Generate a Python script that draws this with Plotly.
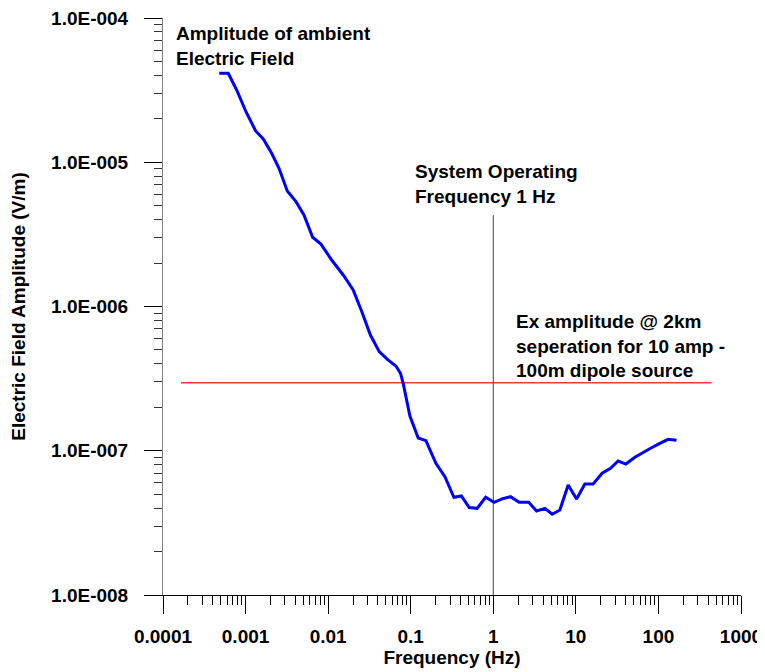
import plotly.graph_objects as go

# ambient electric field amplitude
freq = [4.80e-4, 6.17e-4, 7.80e-4, 1.011e-3, 1.325e-3, 1.638e-3, 2.07e-3, 2.54e-3,
        3.20e-3, 4.08e-3, 5.09e-3, 6.49e-3, 8.18e-3, 1.103e-2, 1.523e-2, 2.01e-2,
        2.566e-2, 3.25e-2, 4.155e-2, 5.30e-2, 6.62e-2, 7.54e-2, 8.11e-2, 9.78e-2,
        0.1233, 0.1528, 0.2019, 0.2594, 0.3334, 0.411, 0.5107, 0.638,
        0.807, 1.023, 1.296, 1.62, 2.052, 2.683, 3.344, 4.215,
        5.166, 6.40, 8.07, 10.2, 12.85, 16.2, 20.8, 26.3,
        32.5, 40.3, 51.8, 65.3, 82.5, 104, 131, 165.6]
amplitude = [4.14e-5, 4.14e-5, 3.17e-5, 2.24e-5, 1.647e-5, 1.45e-5, 1.153e-5, 9.08e-6,
             6.32e-6, 5.33e-6, 4.31e-6, 3.02e-6, 2.71e-6, 2.10e-6, 1.654e-6, 1.302e-6,
             9.16e-7, 6.34e-7, 4.86e-7, 4.26e-7, 3.87e-7, 3.43e-7, 2.93e-7, 1.741e-7,
             1.226e-7, 1.174e-7, 8.18e-8, 6.61e-8, 4.76e-8, 4.86e-8, 4.04e-8, 3.99e-8,
             4.76e-8, 4.39e-8, 4.65e-8, 4.80e-8, 4.39e-8, 4.39e-8, 3.82e-8, 3.99e-8,
             3.63e-8, 3.88e-8, 5.79e-8, 4.63e-8, 5.88e-8, 5.88e-8, 6.98e-8, 7.55e-8,
             8.49e-8, 8.09e-8, 9.01e-8, 9.75e-8, 1.05e-7, 1.126e-7, 1.20e-7, 1.181e-7]

# Ex amplitude of the source (red line)
source_freq = [1.65e-4, 440]
source_amp = [2.96e-7, 2.96e-7]

# operating frequency marker
op_freq = [1, 1]
op_amp = [1e-8, 4.3e-6]

x_ticks = [1e-4, 1e-3, 1e-2, 1e-1, 1, 10, 100, 1000]
x_labels = ['0.0001', '0.001', '0.01', '0.1', '1', '10', '100', '1000']
y_ticks = [1e-8, 1e-7, 1e-6, 1e-5, 1e-4]
y_labels = ['1.0E-008', '1.0E-007', '1.0E-006', '1.0E-005', '1.0E-004']

FAM = 'Liberation Sans, Arial, sans-serif'
font = dict(family=FAM, size=19, color='black', weight='bold')
tick_font = dict(family=FAM, size=19, color='black', weight='bold')

fig = go.Figure()
fig.add_trace(go.Scatter(x=source_freq, y=source_amp, mode='lines',
                         line=dict(color='rgb(232,60,60)', width=1.5)))
fig.add_trace(go.Scatter(x=op_freq, y=op_amp, mode='lines',
                         line=dict(color='#444444', width=1)))
fig.add_trace(go.Scatter(x=freq, y=amplitude, mode='lines',
                         line=dict(color='rgb(0,0,255)', width=3)))

# ranges padded a hair so the end decades keep their ticks (log rounding)
fig.update_xaxes(type='log', range=[-4.00001, 3.00001], automargin=False,
                 tickvals=x_ticks, ticktext=x_labels,
                 ticks='outside', ticklen=18, tickcolor='black', tickwidth=1,
                 showline=True, linecolor='black', linewidth=1,
                 showgrid=False, zeroline=False, ticklabeloverflow='allow',
                 minor=dict(ticks='outside', ticklen=9, dtick='D1', tickcolor='black', showgrid=False),
                 tickfont=tick_font, ticklabelstandoff=6,
                 title=dict(text='Frequency (Hz)', font=font, standoff=2))
fig.update_yaxes(type='log', range=[-8.00001, -3.99999], automargin=False,
                 tickvals=y_ticks, ticktext=y_labels,
                 ticks='outside', ticklen=18, tickcolor='black', tickwidth=1,
                 showline=True, linecolor='#808080', linewidth=1,
                 showgrid=False, zeroline=False, ticklabeloverflow='allow',
                 minor=dict(ticks='outside', ticklen=8, dtick='D1', tickcolor='#333333', showgrid=False),
                 tickfont=tick_font, ticklabelstandoff=12,
                 title=dict(text='Electric Field Amplitude (V/m)', font=font, standoff=20))

fig.add_annotation(xref='paper', yref='paper', x=0.019, y=0.951, xanchor='left', yanchor='middle',
                   align='left', showarrow=False, font=font,
                   text='Amplitude of ambient<br>Electric Field')
fig.add_annotation(xref='paper', yref='paper', x=0.4325, y=0.712, xanchor='left', yanchor='middle',
                   align='left', showarrow=False, font=font,
                   text='System Operating<br>Frequency 1 Hz')
fig.add_annotation(xref='paper', yref='paper', x=0.607, y=0.4324, xanchor='left', yanchor='middle',
                   align='left', showarrow=False, font=font,
                   text='Ex amplitude @ 2km<br>seperation for 10 amp -<br>100m dipole source')

# the page body adds an 8px margin, so the figure is 8px smaller than the window
fig.update_layout(width=757, height=664, showlegend=False,
                  plot_bgcolor='white', paper_bgcolor='white',
                  margin=dict(l=155, r=24, t=10, b=77))

fig.write_html('out.html')
